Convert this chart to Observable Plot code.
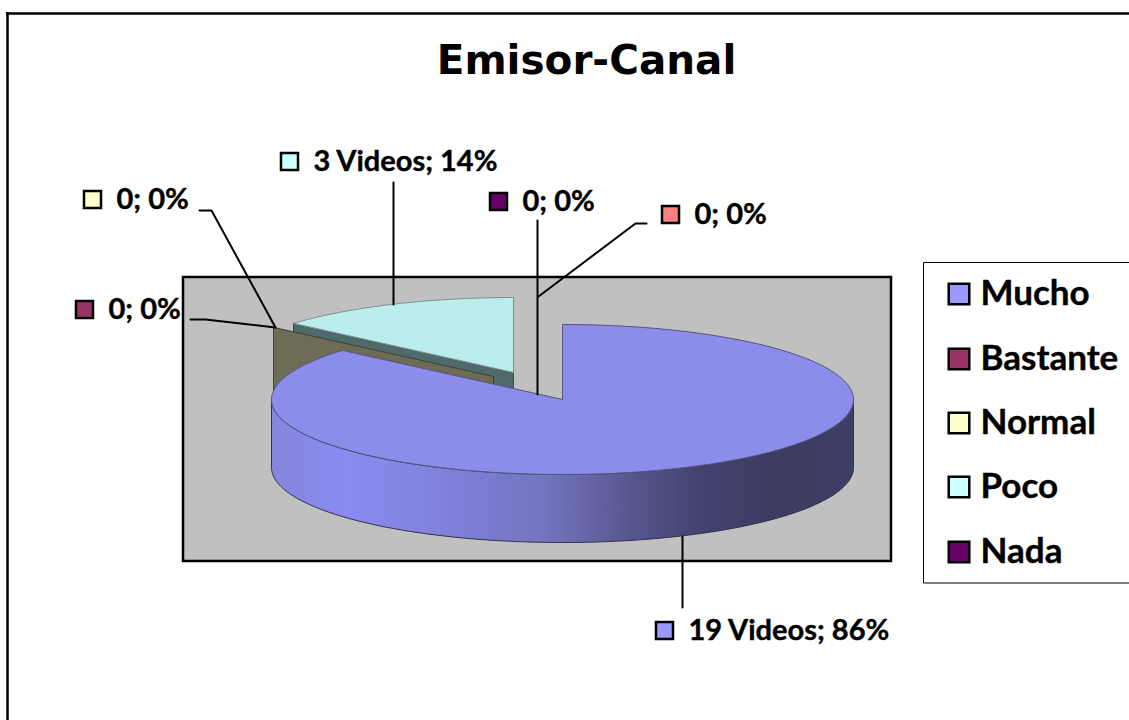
<!DOCTYPE html>
<html lang="es">
<head>
<meta charset="utf-8">
<title>Emisor-Canal</title>
<script src="https://cdn.jsdelivr.net/npm/d3@7"></script>
<script src="https://cdn.jsdelivr.net/npm/@observablehq/plot@0.6"></script>
<style>html,body{margin:0;padding:0;background:#fff}svg{display:block}</style>
</head>
<body>
<div id="chart"></div>
<script>
// ---- data ----
const categories = ["Mucho", "Bastante", "Normal", "Poco", "Nada", ""];
const videos = [19, 0, 0, 3, 0, 0];
const units = ["Videos", "", "", "Videos", "", ""];
const legendNames = ["Mucho", "Bastante", "Normal", "Poco", "Nada"];
const keyColors = ["#9999ff", "#993366", "#ffffcc", "#ccffff", "#660066", "#ff8080"];

// ---- layout (separate from the values) ----
const W = 1129, H = 720;
const pieC = {cx: 562, cy: 399, rx: 291, ry: 75, depth: 68};
const explode = {Poco: [-49, -27], Normal: [-69, -23]};
const labelAt = [[664, 630], [84, 309], [92, 199], [289, 161], [498, 201], [670, 214]];
const leaders = [
  [[682, 607], [682, 536]],
  [[190, 319], [205, 319], [275, 327]],
  [[199, 210], [211, 210], [275, 327]],
  [[393, 182], [393, 304]],
  [[537, 220], [537, 394]],
  [[646, 223], [635, 223], [538, 296]]
];
const legendY = [293.5, 358.5, 422.5, 486.5, 551.5];

// ---- geometry derived from the values ----
const total = d3.sum(videos);
const arcs = d3.pie().sort(null).value((d) => d)(videos);
const pct = d3.format(".0%");
const pt = (a, o, dz = 0) => ({
  x: pieC.cx + o[0] + pieC.rx * Math.sin(a),
  y: pieC.cy + o[1] + dz - pieC.ry * Math.cos(a)
});
const sweep = (a0, a1, o, dz = 0) => {
  const n = Math.max(2, Math.ceil(Math.abs(a1 - a0) / 0.02));
  return d3.range(n + 1).map((i) => pt(a0 + ((a1 - a0) * i) / n, o, dz));
};
const apex = (o, dz = 0) => ({x: pieC.cx + o[0], y: pieC.cy + o[1] + dz});
const topFace = (a, o) => [apex(o), ...sweep(a.startAngle, a.endAngle, o), apex(o)];
const cutWall = (ang, o) => [apex(o), pt(ang, o), pt(ang, o, pieC.depth), apex(o, pieC.depth), apex(o)];
const rim = (a0, a1, o) => {
  const up = sweep(a0, a1, o);
  return [...up, ...sweep(a1, a0, o, pieC.depth), up[0]];
};

const mucho = arcs[0], poco = arcs[3], normal = arcs[2];
const noOff = [0, 0];
const poly = (pts, fill, stroke = "#4a4a4a", strokeWidth = 1) =>
  Plot.line(pts, {x: "x", y: "y", fill, stroke, strokeWidth, curve: "linear"});

const gradient = () => {
  const ns = "http://www.w3.org/2000/svg";
  const defs = document.createElementNS(ns, "defs");
  const g = document.createElementNS(ns, "linearGradient");
  g.setAttribute("id", "rimShade");
  [[0, "#8686dc"], [0.13, "#8b8bf0"], [0.3, "#8080dc"], [0.47, "#7474be"], [0.62, "#56568e"], [0.74, "#42426f"], [0.86, "#3c3c62"], [1, "#3e3e66"]]
    .forEach(([o, c]) => {
      const s = document.createElementNS(ns, "stop");
      s.setAttribute("offset", o);
      s.setAttribute("stop-color", c);
      g.appendChild(s);
    });
  defs.appendChild(g);
  return defs;
};

const labels = videos.map((v, i) => ({
  text: `${v}${units[i] ? " " + units[i] : ""}; ${pct(v / total)}`,
  x: labelAt[i][0], y: labelAt[i][1], color: keyColors[i]
}));
const legend = legendNames.map((name, i) => ({name, y: legendY[i], color: keyColors[i]}));
const leaderRows = leaders.flatMap((l, i) => l.map(([x, y]) => ({x, y, i})));
const textBase = {fontFamily: "Lato, Carlito, sans-serif", fontWeight: 700, textAnchor: "start", fill: "#000", stroke: "#000", strokeWidth: 0.4, lineAnchor: "middle"};

const chart = Plot.plot({
  width: W, height: H,
  marginTop: 0, marginRight: 0, marginBottom: 0, marginLeft: 0,
  style: {background: "#fff"},
  x: {domain: [0, W], range: [0, W], axis: null},
  y: {domain: [0, H], range: [0, H], axis: null},
  marks: [
    gradient,
    // chart frame (top and left only are inside the crop)
    Plot.ruleY([13], {x1: 6, x2: W, stroke: "#000", strokeWidth: 2.5}),
    Plot.ruleX([7], {y1: 12, y2: H, stroke: "#000", strokeWidth: 2.5}),
    Plot.text(["Emisor-Canal"], {x: 586, y: 61, text: (d) => d, fontFamily: "DejaVu Sans", fontWeight: 700, fontSize: 40.5, fill: "#000", lineAnchor: "middle"}),
    // plot area
    Plot.rect([0], {x1: 183, x2: 891, y1: 277, y2: 561, fill: "#c0c0c0", stroke: "#000", strokeWidth: 2.5}),
    // exploded Poco slice
    poly(cutWall(poco.startAngle, explode.Poco), "#4f6a6b", "#3a4a4a"),
    poly(topFace(poco, explode.Poco), "#bbeded", "#7f8f8f"),
    // zero-value slices: only their cut faces show
    poly(cutWall(normal.startAngle, explode.Normal), "#6e6c55", "#3f3f33"),
    // Mucho slice
    poly(rim(Math.PI / 2, (3 * Math.PI) / 2, noOff), "url(#rimShade)", "#30304a"),
    poly(topFace(mucho, noOff), "#8c8ceb", "#55557f"),
    // leader lines
    Plot.line(leaderRows, {x: "x", y: "y", z: "i", stroke: "#000", strokeWidth: 2, curve: "linear"}),
    // data labels
    Plot.dot(labels, {x: "x", y: "y", symbol: "square", r: 9.6, fill: "color", stroke: "#000", strokeWidth: 2.5}),
    Plot.text(labels, {...textBase, x: (d) => d.x + 24, y: "y", text: "text", fontSize: 29}),
    // legend
    Plot.line([{x: W, y: 262}, {x: 923, y: 262}, {x: 923, y: 582.5}, {x: W, y: 582.5}], {x: "x", y: "y", stroke: "#000", strokeWidth: 1, curve: "linear"}),
    Plot.dot(legend, {x: 958.5, y: "y", symbol: "square", r: 11.6, fill: "color", stroke: "#000", strokeWidth: 2.5}),
    Plot.text(legend, {...textBase, x: 980, y: "y", text: "name", fontSize: 35})
  ]
});
document.getElementById("chart").appendChild(chart);
</script>
</body>
</html>
